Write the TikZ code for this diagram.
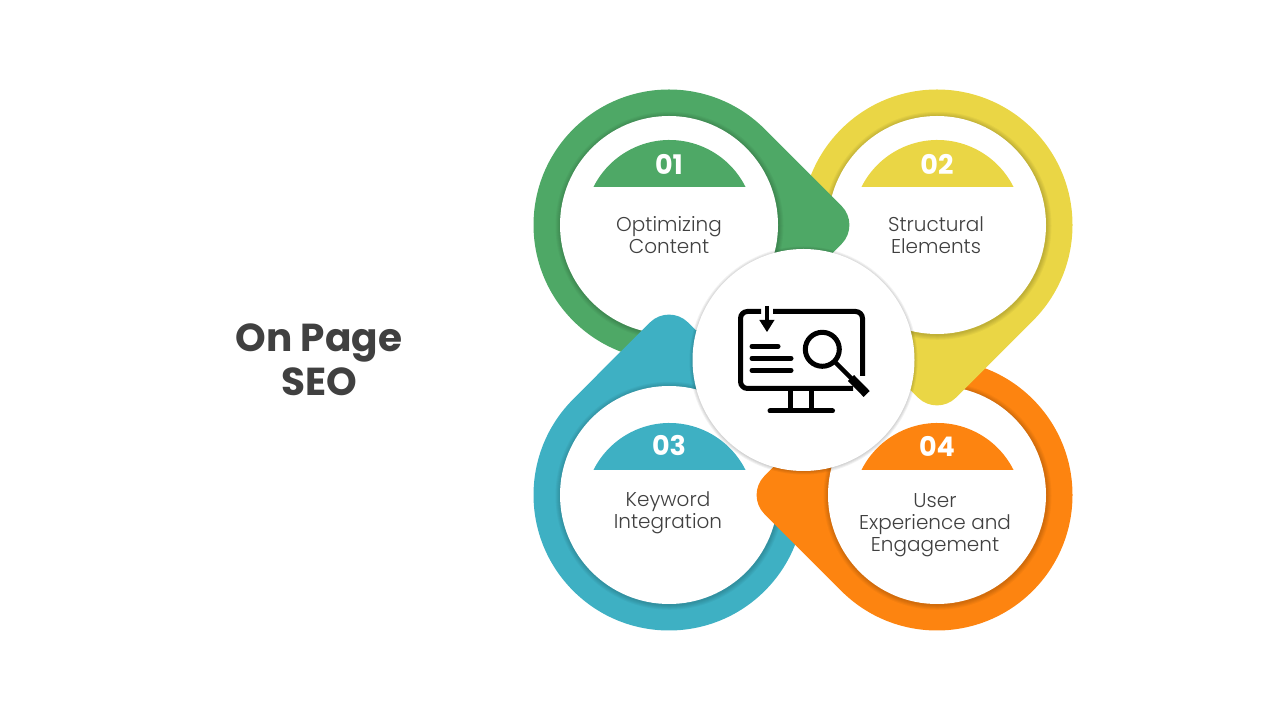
\documentclass[tikz,border=0pt]{standalone}
\usepackage{fontspec}
\setmainfont{Poppins}
\newfontfamily\lightfont{Poppins Light}
\usepackage{xcolor}
\usetikzlibrary{positioning}

\definecolor{seogreen}{HTML}{4EA866}
\definecolor{seoyellow}{HTML}{EAD645}
\definecolor{seoblue}{HTML}{3EB0C3}
\definecolor{seoorange}{HTML}{FD8410}
\definecolor{seotext}{HTML}{404040}

\tikzset{
    numlabel/.style={font=\fontsize{27}{27}\selectfont\bfseries, text=white, inner sep=0pt},
    steplabel/.style={font=\fontsize{20}{22}\selectfont\lightfont, text=seotext, align=center, inner sep=0pt},
    iconline/.style={draw=black, line width=5pt, line cap=round}
}

% teardrop ring: centre, direction of the tip, colour
\newcommand{\petal}[3]{
\begin{scope}[shift={#1}, rotate=#2]
\fill[#3] (45:135.5) -- (172.5,19.1) arc (45:-45:27) -- (-45:135.5) arc (-45:-315:135.5) -- cycle;
\end{scope}
\foreach \r in {114,113,...,110}
    \fill[black, opacity=0.035] #1 ++(0.5,-0.8) circle (\r);
\fill[white] #1 circle (109);
}

\begin{document}
\begin{tikzpicture}[x=1pt,y=1pt]
\useasboundingbox (0,0) rectangle (1280,720);

% rings, each tip lies on the next one
\petal{(669,225)}{90}{seoblue}
\petal{(937,225)}{180}{seoorange}
\petal{(937,495)}{-90}{seoyellow}
\petal{(669,495)}{0}{seogreen}
\begin{scope}
\clip (500,345) rectangle (800,420);
\petal{(669,225)}{90}{seoblue}
\end{scope}

% half discs
\fill[seogreen] (669.5,495) ++(26.6:85) arc (26.6:153.4:85) -- cycle;
\fill[seoyellow] (937.5,495) ++(26.6:85) arc (26.6:153.4:85) -- cycle;
\fill[seoblue] (669.5,212) ++(26.6:85) arc (26.6:153.4:85) -- cycle;
\fill[seoorange] (937.5,212) ++(26.6:85) arc (26.6:153.4:85) -- cycle;

\node[numlabel] (n1) at (669,556) {01};
\node[numlabel] (n2) at (937,556) {02};
\node[numlabel] (n3) at (669,274) {03};
\node[numlabel] (n4) at (937,274) {04};

\node[steplabel] (s1) at (669,485) {Optimizing\\Content};
\node[steplabel] (s2) at (936,485) {Structural\\Elements};
\node[steplabel] (s3) at (668,207) {Keyword\\Integration};
\node[steplabel] (s4) at (935,195) {User\\Experience and\\Engagement};

% middle disc
\foreach \r in {114,113,...,111}
    \fill[black, opacity=0.05] (803.5,359.5) circle (\r);
\fill[white] (803.5,360) circle (111);

% icon
\draw[iconline, line cap=butt, rounded corners=7] (761,408.5) -- (740.5,408.5) -- (740.5,331.5) -- (853,331.5);
\draw[iconline, line cap=butt, rounded corners=7] (773,408.5) -- (862.5,408.5) -- (862.5,344);
\draw[black, line width=3.5pt] (767,414) -- (767,398);
\fill[black] (759.3,400) -- (774.5,400) -- (767,388) -- cycle;
\draw[iconline] (752,373.7) -- (778,373.7);
\draw[iconline] (752,361.7) -- (791,361.7);
\draw[iconline] (752,349.7) -- (791,349.7);
\draw[black, line width=5pt] (822.3,370.7) circle (17);
\draw[black, line width=4.5pt] (834.5,358.5) -- (853,340);
\draw[black, line width=8.5pt] (851,342) -- (866.7,326);
\draw[black, line width=5pt] (790.7,331) -- (790.7,309);
\draw[black, line width=5pt] (811.7,331) -- (811.7,309);
\draw[iconline] (770,309) -- (832.5,309);

% title
\node[font=\fontsize{39}{44}\selectfont\bfseries, text=seotext, align=center, inner sep=0pt] (title) at (319,360) {On Page\\SEO};
\end{tikzpicture}
\end{document}
